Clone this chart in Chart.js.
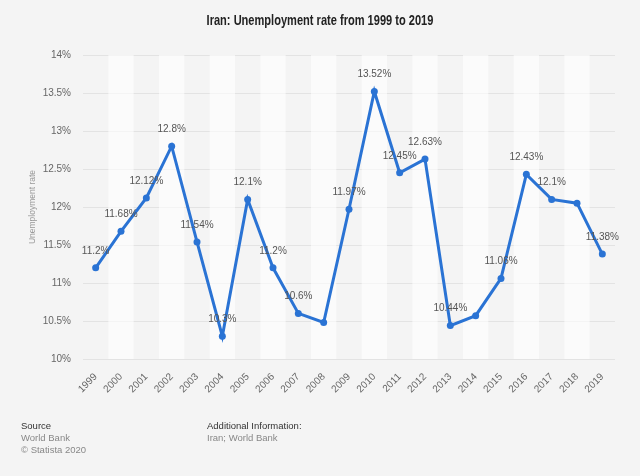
<!DOCTYPE html>
<html>
<head>
<meta charset="utf-8">
<script src="https://cdn.jsdelivr.net/npm/chart.js@4"></script>
<style>
  body { margin: 0; background: #f4f4f4; font-family: "Liberation Sans", Arial, sans-serif; }
  #wrap { position: relative; width: 640px; height: 476px; }
  #title { position: absolute; top: 12px; left: 0; width: 640px; text-align: center;
           font: bold 14px "Liberation Sans", Arial, sans-serif; color: #222;
           transform: scaleX(0.79); transform-origin: 320px 0; }
  .foot { position: absolute; font-size: 9.5px; line-height: 12px; color: #888; }
  .foot b { color: #333; font-weight: normal; }
  canvas { position: absolute; top: 0; left: 0; }
</style>
</head>
<body>
<div id="wrap">
  <canvas id="chart" width="640" height="476"></canvas>
  <div id="title">Iran: Unemployment rate from 1999 to 2019</div>
  <div class="foot" style="left:21px; top:420px;"><b>Source</b><br>World Bank<br>© Statista 2020</div>
  <div class="foot" style="left:207px; top:420px;"><b>Additional Information:</b><br>Iran; World Bank</div>
</div>
<script>
// data
const years = ['1999', '2000', '2001', '2002', '2003', '2004', '2005', '2006', '2007', '2008', '2009',
               '2010', '2011', '2012', '2013', '2014', '2015', '2016', '2017', '2018', '2019'];
const rates = [11.2, 11.68, 12.12, 12.8, 11.54, 10.3, 12.1, 11.2, 10.6, 10.48, 11.97,
               13.52, 12.45, 12.63, 10.44, 10.57, 11.06, 12.43, 12.1, 12.05, 11.38];
// which points carry a value label
const showLabel = [1, 1, 1, 1, 1, 1, 1, 1, 1, 0, 1, 1, 1, 1, 1, 0, 1, 1, 1, 0, 1];
const yTicks = [10, 10.5, 11, 11.5, 12, 12.5, 13, 13.5, 14];

const blue = '#2a73d4';

// faint white column stripes behind the line
const stripes = {
  id: 'stripes',
  beforeDatasetsDraw(chart) {
    const { ctx, chartArea, scales: { x } } = chart;
    const w = x.getPixelForValue(1) - x.getPixelForValue(0);
    ctx.save();
    ctx.fillStyle = 'rgba(255,255,255,0.6)';
    years.forEach((y, i) => {
      if (i % 2 === 1) {
        const cx = x.getPixelForValue(i);
        ctx.fillRect(cx - w / 2, chartArea.top, w, chartArea.bottom - chartArea.top);
      }
    });
    ctx.restore();
  }
};

// value labels above points
const valueLabels = {
  id: 'valueLabels',
  afterDatasetsDraw(chart) {
    const { ctx } = chart;
    const meta = chart.getDatasetMeta(0);
    ctx.save();
    ctx.font = '10px "Liberation Sans", Arial, sans-serif';
    ctx.fillStyle = '#555';
    ctx.textAlign = 'center';
    ctx.textBaseline = 'middle';
    meta.data.forEach((pt, i) => {
      if (showLabel[i]) ctx.fillText(rates[i] + '%', pt.x, pt.y - 17);
    });
    ctx.restore();
  }
};

new Chart(document.getElementById('chart'), {
  type: 'line',
  data: {
    labels: years,
    datasets: [{
      data: rates,
      borderColor: blue,
      backgroundColor: blue,
      borderWidth: 3,
      pointRadius: 3.5,
      pointBackgroundColor: blue,
      pointBorderWidth: 0,
      tension: 0,
      fill: false
    }]
  },
  options: {
    responsive: false,
    animation: false,
    layout: { padding: { top: 55, right: 25, left: 0, bottom: 0 } },
    plugins: { legend: { display: false }, tooltip: { enabled: false } },
    scales: {
      x: {
        offset: true,
        grid: { display: false },
        border: { display: false },
        ticks: {
          color: '#666',
          font: { size: 10, family: '"Liberation Sans", Arial, sans-serif' },
          minRotation: 45, maxRotation: 45, autoSkip: false, padding: 4
        },
        afterFit(s) { s.height = 117; }
      },
      y: {
        min: 10, max: 14,
        afterBuildTicks(s) { s.ticks = yTicks.map(v => ({ value: v })); },
        grid: { color: '#e3e3e3', drawTicks: false },
        border: { display: false },
        ticks: {
          color: '#666',
          font: { size: 10, family: '"Liberation Sans", Arial, sans-serif' },
          padding: 12,
          callback: v => v + '%'
        },
        title: {
          display: true, text: 'Unemployment rate', color: '#999',
          font: { size: 8.5, family: '"Liberation Sans", Arial, sans-serif' },
          padding: { top: 28, bottom: 0 }
        },
        afterFit(s) { s.width = 83; }
      }
    }
  },
  plugins: [stripes, valueLabels]
});
</script>
</body>
</html>
